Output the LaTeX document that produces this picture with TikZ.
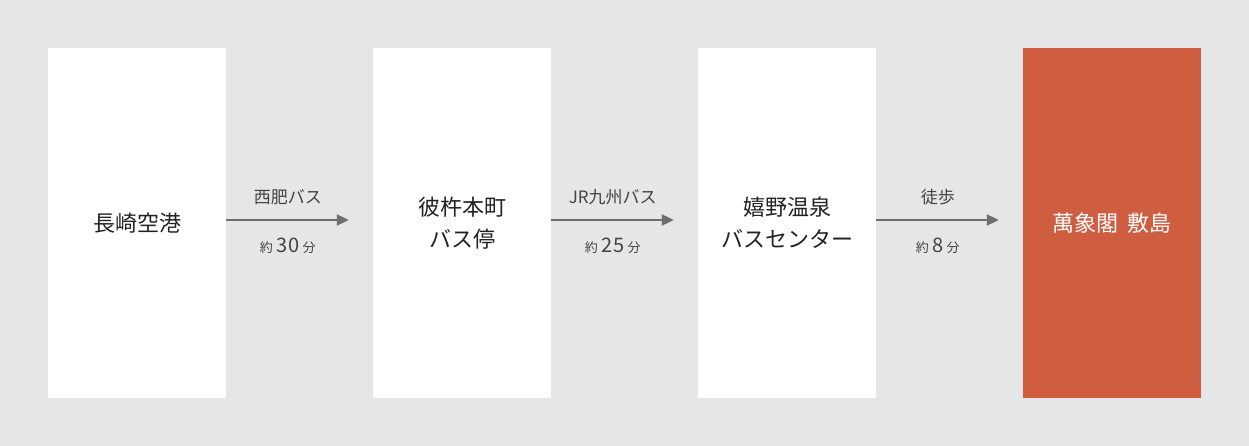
\documentclass[tikz,border=0pt]{standalone}
\usepackage{fontspec}
\setmainfont{Noto Sans CJK JP}
\usetikzlibrary{arrows.meta}
\definecolor{bg}{HTML}{E6E6E6}
\definecolor{accent}{HTML}{CF5D40}
\definecolor{arrowgray}{HTML}{6E6E6E}
\definecolor{txt}{HTML}{222222}
\begin{document}
\begin{tikzpicture}[x=1pt,y=-1pt,
  box/.style={fill=white, minimum width=178pt, minimum height=350pt, inner sep=0pt, align=center,
    text=txt, font=\fontsize{22}{32}\selectfont},
  hotbox/.style={box, fill=accent, text=white},
  conn/.style={draw=arrowgray, line width=2pt, -{Triangle[length=12pt,width=11pt]}, shorten >=24pt},
  toplab/.style={text=txt!85, font=\fontsize{17}{20}\selectfont, inner sep=0pt},
  botlab/.style={text=txt!85, font=\fontsize{20}{22}\selectfont, inner sep=0pt}]
\fill[bg] (0,0) rectangle (1249,446);
\useasboundingbox (0,0) rectangle (1249,446);
\newcommand{\sm}[1]{{\fontsize{13}{15}\selectfont #1}}
\node[box] (b1) at (137,223) {長崎空港};
\node[box] (b2) at (462,223) {彼杵本町\\バス停};
\node[box] (b3) at (787,223) {嬉野温泉\\バスセンター};
\node[hotbox] (b4) at (1112,223) {萬象閣\hspace{9pt}敷島};
\draw[conn] ([yshift=3pt]b1.east) -- ([yshift=3pt]b2.west)
  node[toplab, pos=0.42, yshift=23pt] (t1) {西肥バス}
  node[botlab, pos=0.42, yshift=-26pt] (u1) {\sm{約}\,3\kern1pt0\,\sm{分}};
\draw[conn] ([yshift=3pt]b2.east) -- ([yshift=3pt]b3.west)
  node[toplab, pos=0.42, yshift=23pt] (t2) {JR九州バス}
  node[botlab, pos=0.42, yshift=-26pt] (u2) {\sm{約}\,2\kern1pt5\,\sm{分}};
\draw[conn] ([yshift=3pt]b3.east) -- ([yshift=3pt]b4.west)
  node[toplab, pos=0.42, yshift=23pt] (t3) {徒歩}
  node[botlab, pos=0.42, yshift=-26pt] (u3) {\sm{約}\,8\,\sm{分}};
\end{tikzpicture}
\end{document}
